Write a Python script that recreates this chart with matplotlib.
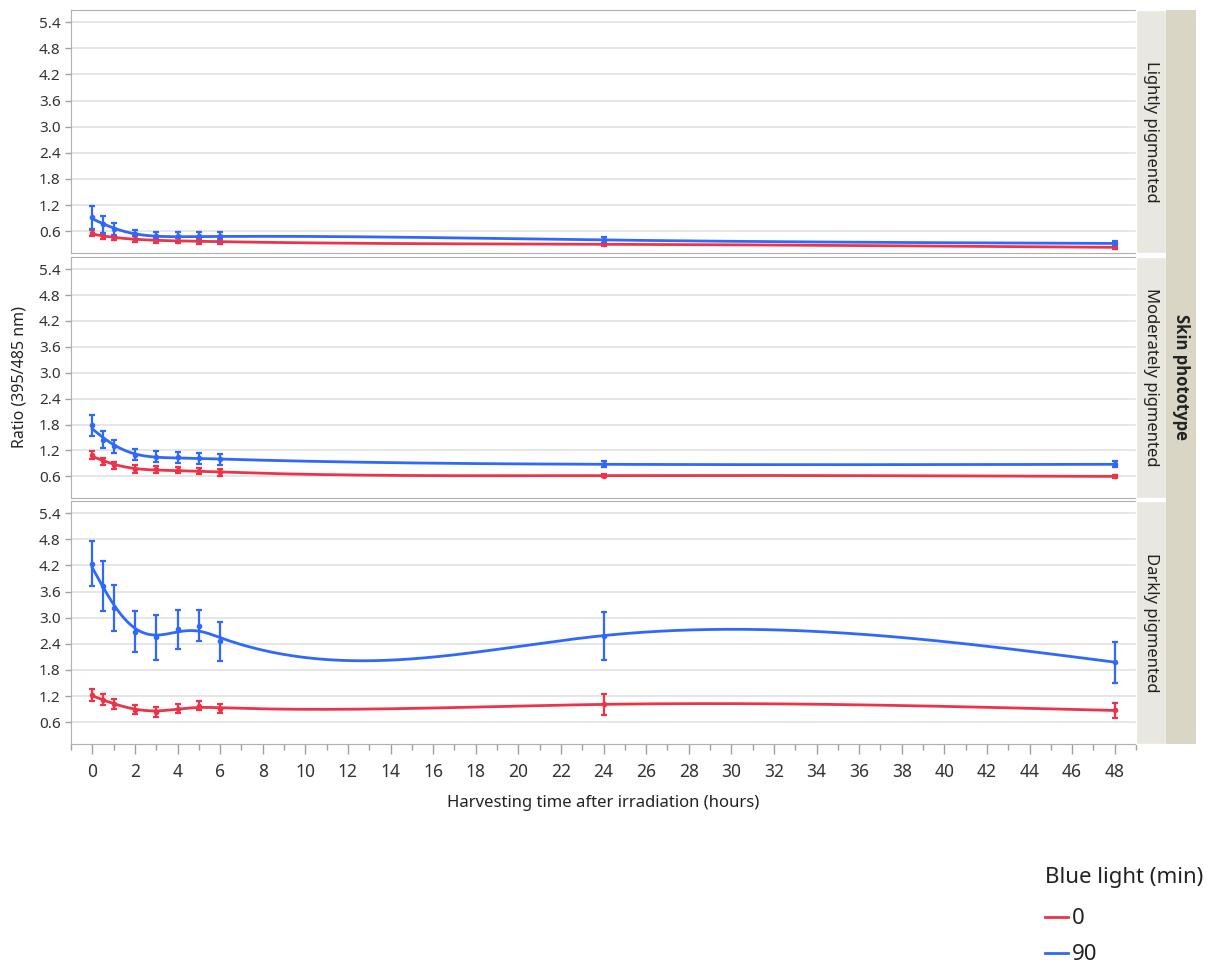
import matplotlib
matplotlib.use("Agg")
import matplotlib.pyplot as plt
from matplotlib.patches import Rectangle
from matplotlib.lines import Line2D
import numpy as np

plt.rcParams['font.family'] = ['Noto Sans', 'DejaVu Sans']

# harvesting times (hours)
hours = [0, 0.5, 1, 2, 3, 4, 5, 6, 24, 48]
phototypes = ["Lightly pigmented", "Moderately pigmented", "Darkly pigmented"]

# ratio means and error half-widths, blue light 0 min
light_0 = [0.55, 0.48, 0.45, 0.42, 0.39, 0.38, 0.37, 0.36, 0.30, 0.23]
light_0_err = [0.07, 0.06, 0.06, 0.06, 0.06, 0.06, 0.06, 0.06, 0.04, 0.03]
moderate_0 = [1.10, 0.95, 0.86, 0.77, 0.76, 0.74, 0.72, 0.70, 0.62, 0.60]
moderate_0_err = [0.09, 0.08, 0.08, 0.09, 0.07, 0.07, 0.07, 0.08, 0.04, 0.04]
dark_0 = [1.22, 1.12, 1.02, 0.89, 0.83, 0.91, 0.98, 0.91, 1.01, 0.87]
dark_0_err = [0.14, 0.13, 0.12, 0.10, 0.12, 0.10, 0.10, 0.10, 0.24, 0.18]

# blue light 90 min
light_90 = [0.92, 0.76, 0.65, 0.53, 0.49, 0.48, 0.48, 0.48, 0.40, 0.32]
light_90_err = [0.27, 0.20, 0.15, 0.10, 0.10, 0.10, 0.10, 0.10, 0.07, 0.05]
moderate_90 = [1.78, 1.45, 1.30, 1.10, 1.06, 1.04, 1.02, 1.00, 0.88, 0.88]
moderate_90_err = [0.25, 0.20, 0.15, 0.13, 0.13, 0.13, 0.13, 0.13, 0.07, 0.07]
dark_90 = [4.24, 3.73, 3.22, 2.68, 2.55, 2.73, 2.82, 2.46, 2.59, 1.98]
dark_90_err = [0.52, 0.58, 0.52, 0.47, 0.51, 0.44, 0.35, 0.45, 0.55, 0.47]

series_0 = [(light_0, light_0_err), (moderate_0, moderate_0_err), (dark_0, dark_0_err)]
series_90 = [(light_90, light_90_err), (moderate_90, moderate_90_err), (dark_90, dark_90_err)]

RED = '#ee3348'
BLUE = '#2f68ff'
W, H = 1211, 965


def smoother(x, y, lam=0.3, h=0.05):
    # penalized (second difference) smoother on a fine grid, like a smoothing spline
    grid = np.arange(0, max(x) + h / 2, h)
    n = len(grid)
    idx = np.round(np.array(x) / h).astype(int)
    w = np.zeros(n)
    z = np.zeros(n)
    w[idx] = 1.0
    z[idx] = y
    D = np.diff(np.eye(n), 2, axis=0)
    A = np.diag(w) + (lam / h ** 3) * D.T @ D
    return grid, np.linalg.solve(A, w * z)


def px_axes(fig, x0, y0, x1, y1):
    return fig.add_axes([x0 / W, 1 - y1 / H, (x1 - x0) / W, (y1 - y0) / H])


fig = plt.figure(figsize=(W / 100, H / 100), dpi=100)

panels = [(10, 253), (257, 498), (501, 744)]
yticks = [0.6, 1.2, 1.8, 2.4, 3.0, 3.6, 4.2, 4.8, 5.4]

for k, (top, bot) in enumerate(panels):
    ax = px_axes(fig, 71, top, 1136, bot)
    for (vals, errs), col in [(series_0[k], RED), (series_90[k], BLUE)]:
        gx, gy = smoother(hours, vals)
        ax.plot(gx, gy, color=col, lw=2, zorder=3)
        ax.errorbar(hours, vals, yerr=errs, fmt='o', color=col, ms=3,
                    elinewidth=1.6, capsize=2, capthick=1.6, zorder=4)
    ax.set_xlim(-1, 49)
    ax.set_ylim(0.1, 5.68)
    ax.set_yticks(yticks)
    ax.set_yticklabels([f"{t:.1f}" for t in yticks])
    ax.grid(axis='y', color='#e2e2e2', lw=1.2)
    ax.set_axisbelow(True)
    ax.tick_params(axis='y', labelsize=11, colors='#a0a0a0', labelcolor='#333333',
                   length=4, width=1)
    for s in ax.spines.values():
        s.set_color('#b0b0b0')
    ax.spines['right'].set_visible(False)
    if k < 2:
        ax.set_xticks([])
    else:
        ax.set_xticks(range(0, 49, 2))
        ax.set_xticks(range(-1, 50), minor=True)
        ax.tick_params(axis='x', which='major', labelsize=12.5, colors='#a0a0a0',
                       labelcolor='#333333', length=7, width=1, pad=7)
        ax.tick_params(axis='x', which='minor', colors='#a0a0a0', length=4, width=1)
        ax.set_xlabel("Harvesting time after irradiation (hours)", fontsize=12,
                      color='#222222', labelpad=10)

    # inner strip with phototype name
    fig.patches.append(Rectangle((1136 / W, 1 - bot / H), 30 / W, (bot - top) / H,
                                 transform=fig.transFigure, facecolor='#e8e7e0',
                                 edgecolor='white', lw=1, zorder=0))
    fig.text(1151 / W, 1 - (top + bot) / 2 / H, phototypes[k], rotation=270,
             ha='center', va='center', fontsize=12, color='#222222')

# outer strip
fig.patches.append(Rectangle((1166 / W, 1 - 744 / H), 30 / W, 734 / H,
                             transform=fig.transFigure, facecolor='#d9d6c6',
                             edgecolor='none', zorder=0))
fig.text(1181 / W, 1 - 377 / H, "Skin phototype", rotation=270, ha='center',
         va='center', fontsize=12, fontweight='bold', color='#222222',
         family=['Open Sans', 'DejaVu Sans'])

fig.text(20 / W, 1 - 377 / H, "Ratio (395/485 nm)", rotation=90, ha='center',
         va='center', fontsize=11.5, color='#222222')

# legend drawn by hand to match spacing
fig.text(1045 / W, 1 - 877 / H, "Blue light (min)", ha='left', va='center',
         fontsize=16, color='#222222')
for lab, col, yy in [("0", RED, 917), ("90", BLUE, 953)]:
    fig.add_artist(Line2D([1045 / W, 1068 / W], [1 - yy / H, 1 - yy / H],
                          transform=fig.transFigure, color=col, lw=2))
    fig.text(1072 / W, 1 - (yy + 2) / H, lab, ha='left', va='center',
             fontsize=16, color='#222222')

fig.savefig("out.png", dpi=100)
